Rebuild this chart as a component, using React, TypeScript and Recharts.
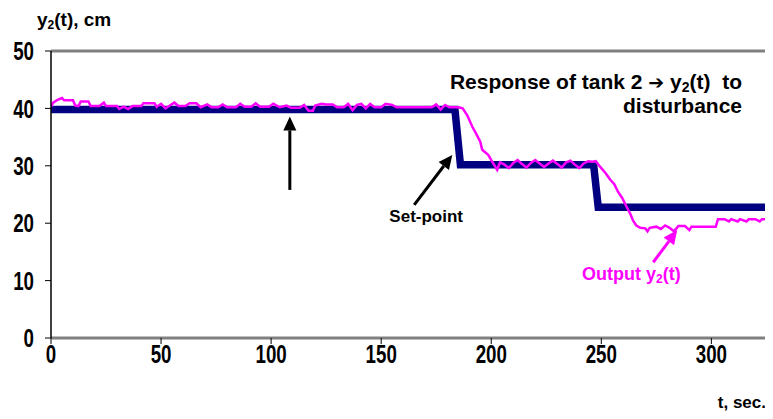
import React from 'react'
import { LineChart, Line, XAxis, YAxis, ReferenceLine } from 'recharts'

// set-point (thick navy step)
const setTime = [0, 183.5, 186, 246.5, 248.6, 328]
const setLevel = [39.8, 39.8, 30.2, 30.2, 22.8, 22.8]

const outTime = [
  0, 1, 3, 5, 6, 10, 11, 12.5, 13.5, 17, 18, 22, 24, 25, 30, 31, 33, 35, 37, 41, 42, 47, 48, 50, 52, 54, 56, 58, 61,
  63, 66, 68, 71, 73, 76, 78, 80, 84, 86, 88, 91, 93, 95, 99, 101, 104, 107, 109, 113, 115, 117, 119, 120, 123,
  125, 128, 130, 133, 135, 137, 139, 141, 143, 145, 147, 150, 152, 155, 157, 165, 173, 175, 177, 179, 181, 185,
  187, 189.1, 191.4, 192.7, 195, 195.9, 198.6, 200.5, 202.7,
  204, 206, 208, 210, 212, 214, 216, 218, 220, 222, 224, 226, 228, 230, 232, 234, 236, 238, 240, 242, 244, 246, 247.5,
  249.5, 251.8, 254, 255.9, 257.7, 259.5, 260.9, 263.2, 264.5, 265.9, 267.7,
  270, 271, 272, 275, 277, 279, 281, 283, 285, 288, 290, 291, 298, 302, 303, 306, 308, 309, 312, 313, 316, 317, 320, 322, 323, 328,
]
const outLevel = [
  40.3, 41.0, 41.5, 41.8, 41.4, 41.4, 40.5, 40.4, 41.2, 41.2, 40.4, 40.4, 41.0, 40.4, 40.4, 39.9, 40.3, 39.9, 40.4, 40.4, 40.9, 40.9, 40.3, 40.8, 40.0, 40.5, 41.0, 40.4, 40.4,
  40.9, 40.9, 40.2, 40.7, 40.2, 40.2, 40.7, 40.2, 40.2, 40.8, 40.3, 40.3, 40.9, 40.3, 40.3, 40.8, 40.2, 40.5, 40.1, 40.1, 40.6, 39.6, 39.6, 40.5, 40.8,
  40.7, 40.7, 40.2, 40.2, 40.8, 39.7, 40.6, 40.8, 40.0, 40.8, 40.2, 40.2, 40.8, 40.6, 40.2, 40.2, 40.2, 40.7, 39.8, 40.6, 40.2, 40.2,
  40.0, 38.8, 36.8, 35.9, 34.2, 32.8, 31.9, 30.7, 29.3,
  30.6, 30.2, 29.6, 30.5, 31.0, 30.3, 29.7, 30.5, 31.0, 30.4, 29.8, 30.4, 30.9, 30.3, 29.7, 30.6, 30.9, 30.2, 29.6, 30.4, 30.8, 30.7, 30.8,
  29.8, 28.8, 27.6, 26.8, 25.4, 24.4, 23.3, 21.6, 20.4, 19.6, 19.2,
  19.1, 18.6, 19.2, 19.4, 19.0, 19.6, 19.2, 18.6, 19.5, 19.5, 18.8, 19.4, 19.4, 19.4, 20.7, 20.7, 20.3, 20.7, 20.3, 20.7, 20.3, 20.7, 20.7, 20.3, 20.7, 20.7,
]

const xTicks = [0, 50, 100, 150, 200, 250, 300]
const yTicks = [0, 10, 20, 30, 40, 50]

// annotation arrows: [tail, tip] in data units
const markArrow = [[108.5, 25.8], [108.5, 38.6]]
const setArrow = [[165, 23.2], [182.3, 31.9]]
const outArrow = [[273.6, 13.2], [284.5, 18.8]]

const setData = setTime.map((t, i) => ({ t, v: setLevel[i] }))
const outData = outTime.map((t, i) => ({ t, v: outLevel[i] }))

const arial = '"Liberation Sans", Arial, sans-serif'
const bold = { fontFamily: arial, fontWeight: 'bold' as const }

// condensed bold digits, like Arial Narrow
function NarrowTick({ x, y, payload, anchor, dy }: any) {
  return (
    <text
      transform={`translate(${x},${y}) scale(0.72,1)`}
      textAnchor={anchor}
      dy={dy}
      fontSize={26}
      fill="#000"
      {...bold}
    >
      {payload.value}
    </text>
  )
}

function arrowShape(color: string) {
  return (p: any) => {
    const { x1, y1, x2, y2 } = p
    const dx = x2 - x1
    const dy = y2 - y1
    const len = Math.sqrt(dx * dx + dy * dy) || 1
    const ux = dx / len
    const uy = dy / len
    const head = 14
    const half = 6.5
    const bx = x2 - ux * head
    const by = y2 - uy * head
    return (
      <g>
        <line x1={x1} y1={y1} x2={bx} y2={by} stroke={color} strokeWidth={3} />
        <polygon
          points={`${x2},${y2} ${bx - uy * half},${by + ux * half} ${bx + uy * half},${by - ux * half}`}
          fill={color}
        />
      </g>
    )
  }
}

export default function App() {
  return (
    <div style={{ position: 'relative', width: 765, height: 403 }}>
      <LineChart width={765} height={403} data={outData} margin={{ top: 43, right: 0, bottom: 33, left: 0 }}>
        <XAxis
          dataKey="t"
          type="number"
          domain={[0, 328]}
          ticks={xTicks}
          allowDataOverflow
          height={40}
          tick={<NarrowTick anchor="middle" dy="0.71em" />}
          tickSize={6}
          tickMargin={1}
          axisLine={{ stroke: '#808080', strokeWidth: 3 }}
          tickLine={{ stroke: '#000' }}
        />
        <YAxis
          type="number"
          domain={[0, 50]}
          ticks={yTicks}
          width={43}
          tick={<NarrowTick anchor="end" dy="0.355em" />}
          tickSize={6}
          tickMargin={11}
          axisLine={{ stroke: '#000', strokeWidth: 1.5 }}
          tickLine={{ stroke: '#000' }}
        />
        <ReferenceLine y={50} stroke="#808080" strokeWidth={3} />
        <Line
          data={setData}
          dataKey="v"
          type="linear"
          stroke="#000080"
          strokeWidth={7.5}
          strokeLinejoin="miter"
          dot={false}
          isAnimationActive={false}
        />
        <Line
          data={outData}
          dataKey="v"
          type="linear"
          stroke="#FF00FF"
          strokeWidth={2.5}
          dot={false}
          isAnimationActive={false}
        />
        <ReferenceLine segment={markArrow.map(([x, y]) => ({ x, y }))} stroke="#000" shape={arrowShape('#000')} />
        <ReferenceLine segment={setArrow.map(([x, y]) => ({ x, y }))} stroke="#000" shape={arrowShape('#000')} />
        <ReferenceLine
          segment={outArrow.map(([x, y]) => ({ x, y }))}
          stroke="#FF00FF"
          shape={arrowShape('#FF00FF')}
        />
      </LineChart>
      <svg
        width={765}
        height={403}
        style={{ position: 'absolute', left: 0, top: 0, pointerEvents: 'none' }}
      >
        <text x={29} y={18} fontSize={19} {...bold}>
          y<tspan fontSize={12} dy={3}>2</tspan>
          <tspan dy={-3}>(t), cm</tspan>
        </text>
        <text x={734} y={81} fontSize={21} textAnchor="end" {...bold}>
          {'Response of tank 2 '}
          <tspan fontFamily="DejaVu Sans" fontSize={19}>➔</tspan>
          {' y'}
          <tspan fontSize={14} dy={3}>2</tspan>
          <tspan dy={-3}>{'(t)\u00A0 to'}</tspan>
        </text>
        <text x={734} y={105} fontSize={21} textAnchor="end" {...bold}>
          disturbance
        </text>
        <text x={455} y={214} fontSize={17} textAnchor="end" {...bold}>
          Set-point
        </text>
        <text x={574} y={272} fontSize={18} fill="#FF00FF" {...bold}>
          Output y<tspan fontSize={12} dy={3}>2</tspan>
          <tspan dy={-3}>(t)</tspan>
        </text>
        <text x={758} y={400} fontSize={17} textAnchor="end" {...bold}>
          t, sec.
        </text>
      </svg>
    </div>
  )
}
